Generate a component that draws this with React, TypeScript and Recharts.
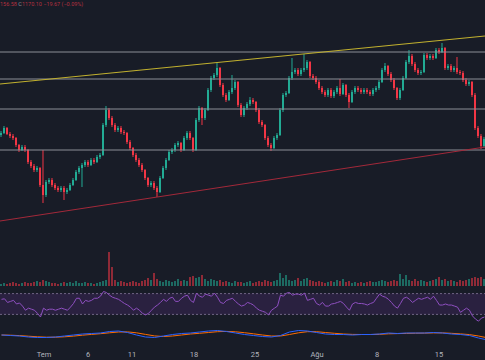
import React from 'react';
import { ComposedChart, Bar, Line, XAxis, YAxis, ReferenceLine, ReferenceArea, Cell } from 'recharts';

const W = 485;
const BG = '#181c27';
const UP = '#22ab94';
const DOWN = '#f23645';

// candle index axis (one candle per step)
const X_DOMAIN: [number, number] = [-0.5, 161.17];
const tickPositions = [14.17, 28.83, 43.5, 64.17, 84.5, 105.17, 125.17, 145.83];
const tickLabels = ['Tem', '6', '11', '18', '25', 'Ağu', '8', '15'];

const opens = [
  21600, 21680, 21880, 21640, 21560, 21480, 21200, 21000, 21120, 21000,
  20520, 20360, 20200, 20280, 19600, 19200, 19720, 19800, 19600, 19480,
  19400, 19480, 19320, 19400, 19600, 19800, 20120, 20280, 20400, 20520,
  20400, 20600, 20520, 20720, 20800, 22000, 22600, 22280, 22000, 21800,
  21880, 21720, 21680, 21320, 21080, 20800, 20600, 20400, 20200, 19880,
  19600, 19680, 19480, 19320, 19880, 20280, 20600, 20920, 21000, 21200,
  21280, 21000, 21480, 21680, 21480, 21000, 22200, 22680, 22280, 22600,
  23400, 23880, 24000, 24280, 23600, 23200, 23000, 23320, 23480, 23720,
  22800, 22400, 22680, 22840, 23000, 22920, 22600, 22120, 22000, 21480,
  21200, 21080, 21480, 21600, 22600, 23200, 23280, 23880, 24120, 24200,
  24040, 24200, 24280, 24520, 23960, 23880, 23720, 23480, 23320, 23200,
  23400, 23160, 23320, 23480, 23240, 23600, 23200, 22920, 23320, 23480,
  23400, 23320, 23400, 23320, 23240, 23400, 23480, 23720, 24200, 24360,
  24040, 23800, 23480, 23080, 23400, 23880, 24520, 24760, 24440, 24200,
  24080, 24120, 24800, 24680, 24760, 24680, 25000, 24920, 25080, 24280,
  24360, 24200, 24280, 24120, 24080, 23800, 23640, 23720, 23200, 21880,
  21560, 21160,
];
const highs = [
  21760, 21960, 21920, 21720, 21640, 21520, 21240, 21200, 21200, 21040,
  20600, 20440, 20360, 20320, 21000, 19800, 19880, 19880, 19680, 19560,
  19560, 19560, 19480, 19680, 19880, 20200, 20360, 20480, 20600, 20600,
  20680, 20680, 20800, 20880, 22080, 22760, 22680, 22360, 22080, 21960,
  21960, 21800, 21720, 21400, 21120, 20880, 20680, 20480, 20240, 19920,
  19760, 19760, 19560, 19960, 20360, 20680, 21000, 21080, 21280, 21360,
  21320, 21560, 21760, 21760, 21520, 22280, 22760, 22720, 22680, 23480,
  23960, 24080, 24480, 24320, 23680, 23280, 23400, 24000, 23800, 23760,
  22880, 22760, 22920, 23120, 23080, 22960, 22680, 22200, 22040, 21560,
  21280, 21560, 21680, 22680, 23280, 23360, 23960, 24680, 24280, 24280,
  24280, 24840, 24600, 24560, 24040, 23960, 23800, 23560, 23400, 23480,
  23480, 23400, 23560, 23840, 23680, 23640, 23280, 23400, 23560, 23560,
  23480, 23480, 23480, 23400, 23480, 23560, 23800, 24280, 24480, 24400,
  24120, 23880, 23520, 23480, 23960, 24600, 25000, 24840, 24520, 24280,
  24200, 24880, 24880, 24840, 24840, 25080, 25080, 25280, 25120, 24440,
  24440, 24360, 24720, 24200, 24160, 23880, 23800, 23760, 23280, 21960,
  21640, 21520,
];
const lows = [
  21520, 21640, 21600, 21480, 21400, 21120, 20920, 20960, 20920, 20440,
  20280, 20120, 20120, 19520, 18880, 19120, 19640, 19520, 19400, 19320,
  19320, 19000, 19240, 19360, 19560, 19760, 20040, 19520, 20320, 20320,
  20360, 20440, 20480, 20640, 20760, 21920, 22200, 21920, 21720, 21720,
  21640, 21600, 21240, 21000, 20720, 20520, 20320, 20120, 19800, 19520,
  19520, 19400, 19120, 19280, 19840, 20200, 20560, 20840, 20920, 21120,
  20920, 20960, 21400, 21400, 20920, 20960, 22120, 22000, 22200, 22560,
  23320, 23800, 23920, 23520, 23120, 22920, 22960, 23240, 23400, 22720,
  22320, 22320, 22600, 22760, 22840, 22520, 22040, 21920, 21400, 21120,
  20960, 21040, 21400, 21560, 22520, 23120, 23240, 23800, 24040, 23960,
  23960, 24120, 24200, 23880, 23800, 23640, 23400, 23240, 23120, 23120,
  23080, 23080, 23240, 23160, 23200, 23120, 22680, 22880, 23240, 23320,
  23240, 23240, 23240, 23160, 23160, 23320, 23400, 23680, 24120, 23960,
  23720, 23400, 23000, 23000, 23360, 23840, 24440, 24360, 24120, 24000,
  24000, 24080, 24600, 24600, 24600, 24640, 24840, 24880, 24200, 24200,
  24120, 24120, 24040, 24000, 23720, 23560, 23560, 23120, 21800, 21480,
  21040, 21080,
];
const closes = [
  21680, 21880, 21640, 21560, 21480, 21200, 21000, 21120, 21000, 20520,
  20360, 20200, 20280, 19600, 19200, 19720, 19800, 19600, 19480, 19400,
  19480, 19320, 19400, 19600, 19800, 20120, 20280, 20400, 20520, 20400,
  20600, 20520, 20720, 20800, 22000, 22600, 22280, 22000, 21800, 21880,
  21720, 21680, 21320, 21080, 20800, 20600, 20400, 20200, 19880, 19600,
  19680, 19480, 19320, 19880, 20280, 20600, 20920, 21000, 21200, 21280,
  21000, 21480, 21680, 21480, 21000, 22200, 22680, 22280, 22600, 23400,
  23880, 24000, 24280, 23600, 23200, 23000, 23320, 23480, 23720, 22800,
  22400, 22680, 22840, 23000, 22920, 22600, 22120, 22000, 21480, 21200,
  21080, 21480, 21600, 22600, 23200, 23280, 23880, 24120, 24200, 24040,
  24200, 24280, 24520, 23960, 23880, 23720, 23480, 23320, 23200, 23400,
  23160, 23320, 23480, 23240, 23600, 23200, 22920, 23320, 23480, 23400,
  23320, 23400, 23320, 23240, 23400, 23480, 23720, 24200, 24360, 24040,
  23800, 23480, 23080, 23400, 23880, 24520, 24760, 24440, 24200, 24080,
  24120, 24800, 24680, 24760, 24680, 25000, 24920, 25080, 24280, 24360,
  24200, 24280, 24120, 24080, 23800, 23640, 23720, 23200, 21880, 21560,
  21160, 21440,
];
const volumes = [
  2, 3, 2, 3, 4, 3, 2, 3, 4, 3,
  3, 4, 5, 4, 6, 5, 4, 3, 3, 2,
  3, 4, 3, 4, 3, 5, 3, 3, 4, 3,
  3, 2, 3, 4, 5, 6, 34, 19, 6, 4,
  5, 4, 3, 4, 5, 4, 3, 5, 6, 8,
  6, 13, 7, 5, 4, 6, 5, 4, 5, 7,
  5, 6, 5, 9, 10, 8, 9, 11, 7, 5,
  7, 6, 5, 6, 4, 5, 4, 3, 5, 4,
  4, 3, 4, 5, 3, 4, 5, 4, 6, 5,
  4, 5, 6, 13, 8, 11, 6, 5, 6, 8,
  5, 7, 8, 6, 5, 4, 5, 4, 3, 4,
  5, 4, 6, 5, 7, 4, 5, 3, 4, 3,
  4, 3, 4, 5, 4, 4, 5, 6, 5, 4,
  5, 6, 5, 12, 7, 11, 6, 5, 7, 5,
  6, 5, 4, 5, 6, 7, 9, 6, 7, 5,
  6, 5, 4, 6, 5, 6, 7, 8, 9, 8,
  9, 7,
];
const rsiValues = [
  59, 60, 53, 55, 57, 50, 52, 46, 38, 42,
  40, 38, 32, 25, 42, 38, 40, 40, 38, 40,
  42, 40, 38, 44, 51, 61, 61, 50, 57, 55,
  57, 61, 61, 65, 74, 72, 67, 63, 61, 59,
  55, 51, 48, 44, 38, 42, 38, 32, 29, 32,
  38, 44, 48, 53, 59, 55, 61, 63, 55, 55,
  61, 65, 67, 57, 53, 71, 65, 63, 69, 67,
  65, 71, 63, 53, 51, 57, 59, 61, 55, 50,
  46, 48, 53, 51, 48, 42, 38, 36, 34, 29,
  38, 42, 46, 67, 65, 71, 72, 67, 69, 69,
  67, 71, 57, 59, 61, 51, 48, 53, 46, 46,
  50, 51, 53, 55, 51, 44, 38, 50, 53, 51,
  51, 50, 48, 51, 53, 61, 69, 65, 63, 59,
  53, 46, 42, 51, 61, 63, 59, 53, 57, 61,
  59, 61, 63, 59, 65, 57, 48, 48, 50, 48,
  48, 46, 44, 34, 38, 42, 38, 27, 21, 17,
  23, 25,
];
// MACD sampled every third candle
const macdLine = [
  0, -50, -100, -200, -250, -250, -200, -100, 0, 100,
  150, 200, 350, 400, 250, 0, -200, -250, -100, 50,
  150, 200, 300, 400, 450, 350, 200, 50, -50, -150,
  -200, -50, 300, 450, 400, 250, 100, 50, 50, 0,
  50, 50, 100, 200, 150, 200, 200, 200, 250, 200,
  100, 50, -50, -300, -500,
];
const signalLine = [
  0, -20, -60, -120, -180, -220, -220, -180, -110, -20,
  60, 130, 220, 300, 310, 220, 60, -90, -150, -100,
  0, 100, 170, 250, 330, 360, 320, 230, 120, 0,
  -100, -100, 50, 220, 330, 330, 250, 170, 100, 60,
  50, 50, 70, 120, 140, 160, 180, 190, 210, 210,
  170, 110, 40, -100, -280,
];
const levels = [24920, 23840, 22640, 21000];
const upperTrend = [{ x: -0.5, y: 23640 }, { x: 161.17, y: 25560 }];
const lowerTrend = [{ x: -0.5, y: 18160 }, { x: 161.17, y: 21120 }];

const candles = opens.map((o, i) => ({
  i,
  o,
  h: highs[i],
  l: lows[i],
  c: closes[i],
  range: [lows[i], highs[i]],
  vol: volumes[i],
  rsi: rsiValues[i],
}));
const macdData = macdLine.map((m, k) => ({ i: k * 3, m, s: signalLine[k] }));

const Candle = (props: any) => {
  const { x, y, width, height, payload } = props;
  if (x == null || y == null) return null;
  const { o, h, l, c } = payload;
  const color = c >= o ? UP : DOWN;
  const top = Math.min(y, y + height);
  const hh = Math.abs(height);
  const span = h - l || 1;
  const yOf = (v: number) => top + ((h - v) / span) * hh;
  const bTop = yOf(Math.max(o, c));
  const bBot = yOf(Math.min(o, c));
  const cx = x + width / 2;
  return (
    <g>
      <line x1={cx} x2={cx} y1={top} y2={top + hh} stroke={color} strokeWidth={1} />
      <rect x={x} y={bTop} width={width} height={Math.max(1, bBot - bTop)} fill={color} />
    </g>
  );
};

const abs = (top: number): React.CSSProperties => ({ position: 'absolute', left: 0, top });
const M = { top: 0, right: 0, bottom: 0, left: 0 };

export default function App() {
  return (
    <div style={{ position: 'fixed', left: 0, top: 0, width: W, height: 360, background: BG, overflow: 'hidden' }}>
      {/* grid + time axis */}
      <div style={abs(0)}>
        <ComposedChart width={W} height={360} data={candles} margin={M}>
          <XAxis
            type="number"
            dataKey="i"
            domain={X_DOMAIN}
            allowDataOverflow
            ticks={tickPositions}
            interval={0}
            tickFormatter={(v: number) => tickLabels[tickPositions.indexOf(v)]}
            axisLine={false}
            tickLine={false}
            height={16}
            tick={{ fill: '#b2b5be', fontSize: 7.5, fontFamily: 'Roboto' }}
          />
          <YAxis hide domain={[0, 1]} />
          {tickPositions.map((t) => (
            <ReferenceLine key={t} x={t} stroke="#222633" strokeWidth={1} />
          ))}
        </ComposedChart>
      </div>
      {/* RSI */}
      <div style={abs(278)}>
        <ComposedChart width={W} height={52} data={candles} margin={M}>
          <XAxis type="number" dataKey="i" domain={X_DOMAIN} allowDataOverflow hide />
          <YAxis hide domain={[0, 100]} allowDataOverflow />
          <ReferenceArea y1={30} y2={70} fill="#2a2140" fillOpacity={1} stroke="none" />
          <ReferenceLine y={70} stroke="#6f6585" strokeDasharray="2 2" />
          <ReferenceLine y={30} stroke="#6f6585" strokeDasharray="2 2" />
          <Line dataKey="rsi" stroke="#8e4fc0" strokeWidth={1} dot={false} isAnimationActive={false} />
        </ComposedChart>
      </div>
      {/* MACD */}
      <div style={abs(322)}>
        <ComposedChart width={W} height={26} data={macdData} margin={M}>
          <XAxis type="number" dataKey="i" domain={X_DOMAIN} allowDataOverflow hide />
          <YAxis hide domain={[-1300, 1300]} allowDataOverflow />
          <Line dataKey="s" stroke="#ff6d00" strokeWidth={1} dot={false} isAnimationActive={false} />
          <Line dataKey="m" stroke="#2962ff" strokeWidth={1} dot={false} isAnimationActive={false} />
        </ComposedChart>
      </div>
      {/* volume */}
      <div style={abs(245)}>
        <ComposedChart width={W} height={41} data={candles} margin={M}>
          <XAxis type="number" dataKey="i" domain={X_DOMAIN} allowDataOverflow hide />
          <YAxis hide domain={[0, 41]} allowDataOverflow />
          <Bar dataKey="vol" barSize={2} isAnimationActive={false}>
            {candles.map((d) => (
              <Cell key={d.i} fill={d.c >= d.o ? 'rgba(34,171,148,0.55)' : 'rgba(242,54,69,0.55)'} />
            ))}
          </Bar>
        </ComposedChart>
      </div>
      {/* price */}
      <div style={abs(0)}>
        <ComposedChart width={W} height={245} data={candles} margin={M}>
          <XAxis type="number" dataKey="i" domain={X_DOMAIN} allowDataOverflow hide />
          <YAxis hide domain={[17200, 27000]} allowDataOverflow />
          {levels.map((lv) => (
            <ReferenceLine key={lv} y={lv} stroke="#8b8e97" strokeWidth={1} />
          ))}
          <ReferenceLine segment={upperTrend} stroke="#c2b12f" strokeWidth={1.2} ifOverflow="visible" />
          <ReferenceLine segment={lowerTrend} stroke="#a3293a" strokeWidth={1} ifOverflow="visible" />
          <Bar dataKey="range" barSize={2} shape={<Candle />} isAnimationActive={false} />
        </ComposedChart>
      </div>
      <div
        style={{
          position: 'absolute',
          left: 0,
          top: 1,
          fontFamily: 'Roboto',
          fontSize: 5.5,
          whiteSpace: 'nowrap',
          color: '#b3303f',
        }}
      >
        <span>156.58 </span>
        <span style={{ color: '#8b8e97' }}>C</span>
        <span>1170.10 −19.67 (−0.09%)</span>
      </div>
    </div>
  );
}
